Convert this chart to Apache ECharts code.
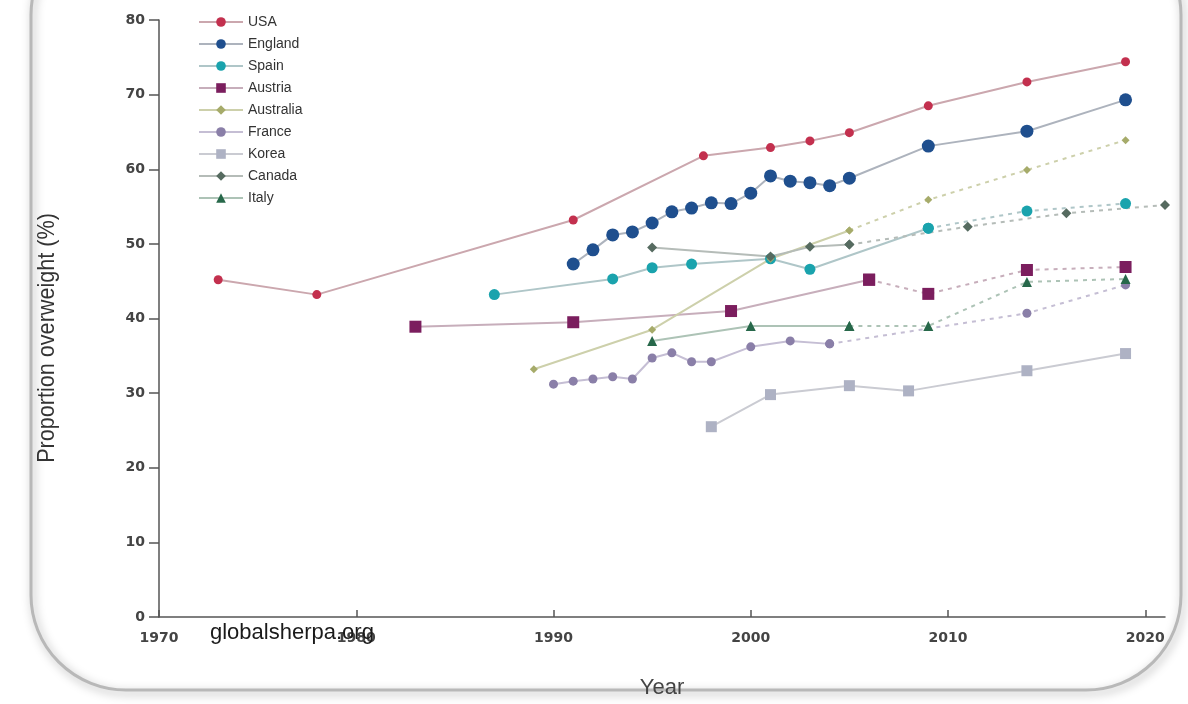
<!DOCTYPE html>
<html>
<head>
<meta charset="utf-8">
<script src="https://cdn.jsdelivr.net/npm/echarts@6/dist/echarts.min.js"></script>
<style>
html,body{margin:0;padding:0;background:#fff;}
#c{width:1188px;height:704px;}
</style>
</head>
<body>
<div id="c"></div>
<script>
// ---- data ----
const xTickValues = [1970, 1980, 1990, 2000, 2010, 2020];
const yTickValues = [0, 10, 20, 30, 40, 50, 60, 70, 80];

const usaYears = [1973, 1978, 1991, 1997.6, 2001, 2003, 2005, 2009, 2014, 2019];
const usaValues = [45.2, 43.2, 53.2, 61.8, 62.9, 63.8, 64.9, 68.5, 71.7, 74.4];

const englandYears = [1991, 1992, 1993, 1994, 1995, 1996, 1997, 1998, 1999, 2000, 2001, 2002, 2003, 2004, 2005, 2009, 2014, 2019];
const englandValues = [47.3, 49.2, 51.2, 51.6, 52.8, 54.3, 54.8, 55.5, 55.4, 56.8, 59.1, 58.4, 58.2, 57.8, 58.8, 63.1, 65.1, 69.3];

const spainYears = [1987, 1993, 1995, 1997, 2001, 2003, 2009, 2014, 2019];
const spainValues = [43.2, 45.3, 46.8, 47.3, 48.0, 46.6, 52.1, 54.4, 55.4];
const spainDashFrom = 2009;

const austriaYears = [1983, 1991, 1999, 2006, 2009, 2014, 2019];
const austriaValues = [38.9, 39.5, 41.0, 45.2, 43.3, 46.5, 46.9];
const austriaDashFrom = 2006;

const australiaYears = [1989, 1995, 2001, 2005, 2009, 2014, 2019];
const australiaValues = [33.2, 38.5, 48.0, 51.8, 55.9, 59.9, 63.9];
const australiaDashFrom = 2005;

const franceYears = [1990, 1991, 1992, 1993, 1994, 1995, 1996, 1997, 1998, 2000, 2002, 2004, 2014, 2019];
const franceValues = [31.2, 31.6, 31.9, 32.2, 31.9, 34.7, 35.4, 34.2, 34.2, 36.2, 37.0, 36.6, 40.7, 44.5];
const franceDashFrom = 2004;

const koreaYears = [1998, 2001, 2005, 2008, 2014, 2019];
const koreaValues = [25.5, 29.8, 31.0, 30.3, 33.0, 35.3];

const canadaYears = [1995, 2001, 2003, 2005, 2011, 2016, 2021];
const canadaValues = [49.5, 48.3, 49.6, 49.9, 52.3, 54.1, 55.2];
const canadaDashFrom = 2005;

const italyYears = [1995, 2000, 2005, 2009, 2014, 2019];
const italyValues = [37.0, 39.0, 39.0, 39.0, 44.9, 45.3];
const italyDashFrom = 2005;

// ---- build series ----
function pts(years, values, from, to) {
  const out = [];
  for (let i = 0; i < years.length; i++) {
    if (years[i] >= from && years[i] <= to) out.push([years[i], values[i]]);
  }
  return out;
}
const countries = [
  {name: 'USA', y: usaYears, v: usaValues, dash: null, color: '#c3304e', line: '#cba7ae', symbol: 'circle', size: 9},
  {name: 'England', y: englandYears, v: englandValues, dash: null, color: '#1f4f8e', line: '#adb3bd', symbol: 'circle', size: 13},
  {name: 'Spain', y: spainYears, v: spainValues, dash: spainDashFrom, color: '#1aa3ad', line: '#afc6c8', symbol: 'circle', size: 11},
  {name: 'Austria', y: austriaYears, v: austriaValues, dash: austriaDashFrom, color: '#7b1e5e', line: '#c7aebb', symbol: 'rect', size: 12},
  {name: 'Australia', y: australiaYears, v: australiaValues, dash: australiaDashFrom, color: '#a6ab6a', line: '#cdd0ab', symbol: 'diamond', size: 8},
  {name: 'France', y: franceYears, v: franceValues, dash: franceDashFrom, color: '#8a7fa8', line: '#c5bed4', symbol: 'circle', size: 9},
  {name: 'Korea', y: koreaYears, v: koreaValues, dash: null, color: '#aeb2c4', line: '#cacbd2', symbol: 'rect', size: 11},
  {name: 'Canada', y: canadaYears, v: canadaValues, dash: canadaDashFrom, color: '#566b60', line: '#b5bcb8', symbol: 'diamond', size: 10},
  {name: 'Italy', y: italyYears, v: italyValues, dash: italyDashFrom, color: '#27684a', line: '#adc3b6', symbol: 'triangle', size: 10}
];
const series = [];
countries.forEach(function (c) {
  const split = c.dash === null ? Infinity : c.dash;
  series.push({
    name: c.name, type: 'line', data: pts(c.y, c.v, -Infinity, split),
    symbol: c.symbol, symbolSize: c.size,
    itemStyle: {color: c.color},
    lineStyle: {color: c.line, width: 2},
    emphasis: {disabled: true}
  });
  if (c.dash !== null) {
    series.push({
      name: c.name, type: 'line', data: pts(c.y, c.v, split, Infinity),
      symbol: c.symbol, symbolSize: c.size,
      itemStyle: {color: c.color},
      lineStyle: {color: c.line, width: 2, type: [4, 5]},
      emphasis: {disabled: true}
    });
  }
});

const chart = echarts.init(document.getElementById('c'), null, {renderer: 'canvas'});
chart.setOption({
  animation: false,
  backgroundColor: '#ffffff',
  graphic: [
    {
      type: 'rect', z: -10, silent: true,
      shape: {x: 31, y: -80, width: 1150, height: 770, r: 95},
      style: {fill: 'rgba(0,0,0,0)', stroke: '#b8b8b8', lineWidth: 3, shadowBlur: 10, shadowColor: 'rgba(0,0,0,0.35)', shadowOffsetX: 2, shadowOffsetY: 3}
    },
    {
      type: 'text', z: 100, left: 210, top: 622, silent: true,
      style: {text: 'globalsherpa.org', font: '22px "Liberation Sans", Arial, sans-serif', fill: '#1a1a1a'}
    },
    {
      type: 'text', z: 100, silent: true,
      x: 47, y: 338, rotation: Math.PI / 2, scaleX: 0.9,
      style: {text: 'Proportion overweight (%)', font: '24px "Liberation Sans", Arial, sans-serif', fill: '#333', align: 'center', verticalAlign: 'middle'}
    }
  ],
  legend: {
    orient: 'vertical', left: 193, top: 10,
    itemWidth: 44, itemHeight: 12, itemGap: 8,
    textStyle: {fontFamily: 'Liberation Sans, sans-serif', fontSize: 14, color: '#333'},
    data: countries.map(function (c) { return c.name; })
  },
  grid: {left: 159, right: 23, top: 20, bottom: 87, containLabel: false},
  xAxis: {
    type: 'value', min: 1970, max: 2021, interval: 10,
    name: 'Year', nameLocation: 'middle', nameGap: 60,
    nameTextStyle: {fontFamily: 'Liberation Sans, sans-serif', fontSize: 22, color: '#444'},
    axisLine: {show: true, lineStyle: {color: '#555', width: 1.5}},
    axisTick: {show: true, inside: true, length: 7, customValues: xTickValues, lineStyle: {color: '#555', width: 1.5}},
    axisLabel: {customValues: xTickValues, formatter: function (v) { return String(v); }, fontFamily: 'DejaVu Sans, sans-serif', fontWeight: 'bold', fontSize: 14, color: '#444', margin: 14},
    splitLine: {show: false}
  },
  yAxis: {
    type: 'value', min: 0, max: 80, interval: 10,
    axisLine: {show: true, lineStyle: {color: '#555', width: 1.5}},
    axisTick: {show: true, length: 10, customValues: yTickValues, lineStyle: {color: '#555', width: 1.5}},
    axisLabel: {customValues: yTickValues, fontFamily: 'DejaVu Sans, sans-serif', fontWeight: 'bold', fontSize: 14, color: '#444', margin: 14},
    splitLine: {show: false}
  },
  series: series
});
</script>
</body>
</html>
